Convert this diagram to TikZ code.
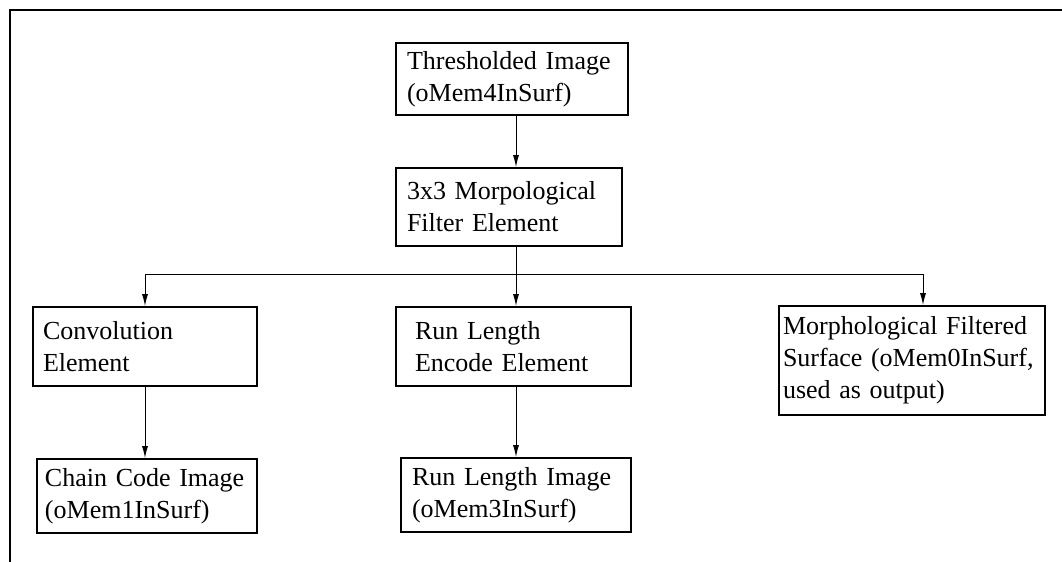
\documentclass[tikz,border=0pt]{standalone}
\usepackage{fontspec}
\setmainfont{Liberation Serif}
\usepackage{tikz}
\usetikzlibrary{calc,positioning,arrows.meta}
\tikzset{
  blk/.style={rectangle,draw=black,line width=0.8pt,align=left,inner ysep=0pt,font=\fontsize{13}{16}\selectfont},
  wire/.style={line width=0.5pt,black},
  arr/.style={-{Latex[length=6pt,width=3pt]},line width=0.5pt,black},
  frame/.style={line width=1pt,black},
}
\begin{document}
\begin{tikzpicture}[x=0.5pt,y=0.5pt]
  \useasboundingbox (0,0) rectangle (1062,562);
  \draw[frame] (1062,552) -- (10,552) -- (10,0);
  \node[blk,text width=105pt,inner xsep=5.5pt,minimum height=36pt](thr) at (512,483){Thresholded Image\\(oMem4InSurf)};
  \node[blk,text width=102pt,inner xsep=5.5pt,minimum height=39pt](mfe) at (509,355){3x3 Morpological\\Filter Element};
  \node[blk,text width=102pt,inner xsep=5pt,minimum height=39.5pt](conv) at (145,215.5){Convolution\\Element};
  \node[blk,text width=98.5pt,inner xsep=9.5pt,minimum height=39.5pt](rle) at (513.5,215.5){Run Length\\Encode Element};
  \node[blk,text width=129pt,inner xsep=2pt,minimum height=54.5pt](mfs) at (912,201.5){Morphological Filtered\\Surface (oMem0InSurf,\\used as output)};
  \node[blk,text width=102pt,inner xsep=4pt,minimum height=37pt](cci) at (147,66){Chain Code Image\\(oMem1InSurf)};
  \node[blk,text width=104pt,inner xsep=5.5pt,minimum height=37pt](rli) at (516,67){Run Length Image\\(oMem3InSurf)};
  \coordinate (jn) at (516,287);
  \draw[arr] (thr.south -| jn) -- (mfe.north -| jn);
  \draw[wire] (mfe.south -| jn) -- (jn);
  \draw[arr] (jn) -| (conv.north);
  \draw[arr] (jn) -- (rle.north -| jn);
  \draw[arr] (jn) -| ([xshift=5.5pt]mfs.north);
  \draw[arr] (conv.south) -- (conv.south |- cci.north);
  \draw[arr] (rle.south -| jn) -- (rli.north -| jn);
\end{tikzpicture}
\end{document}
